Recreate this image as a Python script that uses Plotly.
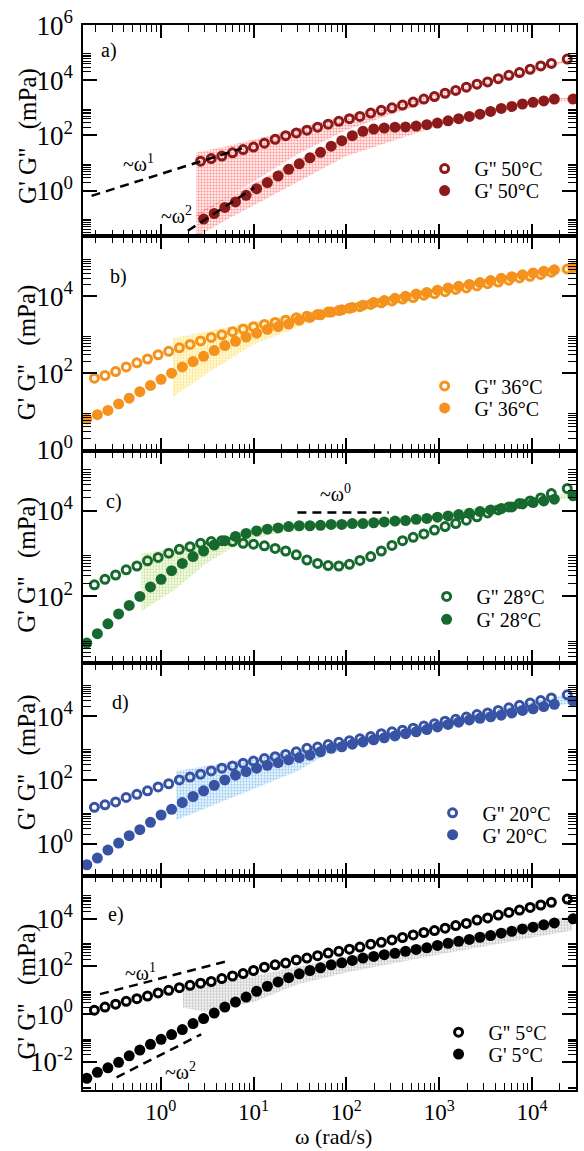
import plotly.graph_objects as go

# ---------------- data ----------------
# angular frequency grids (rad/s): G' grid and G'' grid
OMEGA_GP = [0.160, 0.208, 0.270, 0.352, 0.458, 0.596, 0.776, 1.01, 1.31, 1.71, 2.23, 2.90,
            3.77, 4.91, 6.39, 8.32, 10.8, 14.1, 18.4, 23.9, 31.1, 40.5, 52.7, 68.6, 89.3,
            116, 151, 197, 256, 334, 434, 565, 736, 958, 1247, 1623, 2113, 2750, 3580,
            4660, 6066, 7896, 10280, 13380, 17410, 27700]
OMEGA_GPP = [0.193, 0.251, 0.327, 0.425, 0.554, 0.721, 0.938, 1.22, 1.59, 2.07, 2.69, 3.50,
             4.56, 5.94, 7.73, 10.0, 13.1, 17.1, 22.2, 28.9, 37.6, 49.0, 63.7, 83.0, 108,
             140, 183, 238, 310, 403, 525, 684, 890, 1158, 1508, 1963, 2555, 3326, 4329,
             5635, 7335, 9550, 12430, 16170, 24000]

# panel a (50 C) -- measured only from omega ~2.7 rad/s
A_GPP = [11.7, 14.5, 17.8, 23.4, 30.9, 38.0, 52.5, 72.4, 97.7, 123, 155, 200, 257, 324, 407,
         490, 646, 813, 1000, 1259, 1622, 2089, 2570, 3388, 4266, 5623, 7244, 8710, 11480,
         15140, 19050, 25120, 33110, 40740, 58880]
A_GP = [0.0933, 0.148, 0.245, 0.389, 0.676, 1.17, 1.95, 3.39, 5.89, 9.33, 15.5, 24.5, 40.7,
        64.6, 97.7, 141, 170, 186, 200, 204, 219, 245, 282, 339, 407, 490, 589, 741, 955,
        1122, 1380, 1585, 1778, 2089, 2089]
# panel b (36 C)
B_GPP = [74.1, 87.1, 110, 145, 186, 234, 302, 372, 457, 562, 692, 851, 1000, 1202, 1413, 1622,
         1862, 2089, 2399, 2754, 3020, 3388, 3890, 4266, 4898, 5370, 6166, 6761, 7586, 8511,
         9333, 10720, 11750, 13180, 15140, 16600, 18620, 21380, 23440, 26300, 30200, 33110,
         37150, 42660, 51290]
B_GP = [6.46, 8.32, 10.7, 15.8, 22.4, 33.1, 47.9, 69.2, 100, 145, 200, 275, 389, 525, 676, 871,
        1096, 1380, 1622, 1905, 2399, 2818, 3311, 3890, 4467, 5129, 5888, 6918, 7762, 8913,
        10000, 11480, 12590, 14450, 16600, 18200, 20420, 22910, 25700, 29510, 32360, 36310,
        40740, 44670, 48980, 56230]
# panel c (28 C)
C_GPP = [186, 251, 316, 417, 513, 676, 813, 1023, 1259, 1445, 1738, 1905, 1995, 1905, 1738,
         1660, 1514, 1318, 1148, 933, 708, 589, 525, 513, 562, 692, 851, 1148, 1549, 1995,
         2399, 2884, 3548, 4266, 5012, 6026, 7244, 8913, 10470, 12300, 14790, 16980, 19950,
         25120, 33110]
C_GP = [8.13, 13.5, 22.9, 38.9, 61.7, 100, 166, 251, 398, 589, 851, 1148, 1585, 1995, 2512,
        2951, 3388, 3715, 3981, 4266, 4467, 4467, 4571, 4786, 4786, 5012, 5012, 5248, 5495,
        5754, 5888, 6310, 6607, 7079, 7586, 8128, 8710, 9550, 10470, 11220, 12300, 14450,
        15490, 16980, 18620, 22390]
# panel d (20 C)
D_GPP = [13.8, 16.6, 20.4, 28.2, 35.5, 45.7, 60.3, 75.9, 100, 123, 151, 191, 234, 275, 331,
         389, 468, 537, 631, 759, 977, 1072, 1288, 1514, 1698, 1950, 2291, 2818, 3236, 3631,
         4169, 4898, 5754, 6918, 7943, 9333, 11220, 12590, 15140, 18200, 21880, 25700, 30900,
         37150, 46770]
D_GP = [0.219, 0.355, 0.631, 1.05, 1.78, 2.75, 4.68, 7.94, 12.0, 19.5, 30.2, 45.7, 67.6, 100,
        141, 182, 234, 288, 347, 427, 501, 603, 759, 977, 1096, 1318, 1549, 1820, 2089, 2399,
        2818, 3236, 3802, 4571, 5495, 6457, 7586, 8511, 9550, 10720, 12590, 15140, 16980,
        19950, 23440, 29510]
# panel e (5 C)
E_GPP = [1.48, 2.00, 2.63, 3.47, 4.47, 5.75, 7.76, 10.0, 12.9, 16.2, 20.0, 23.4, 30.9, 39.8,
         50.1, 67.6, 93.3, 117, 138, 186, 224, 282, 363, 427, 525, 646, 851, 1023, 1288, 1622,
         2089, 2630, 3162, 3981, 5129, 6310, 8710, 10720, 14130, 18200, 22910, 29510, 37150,
         47860, 66070]
E_GP = [0.00209, 0.00372, 0.00575, 0.00977, 0.0182, 0.0316, 0.0550, 0.0891, 0.141, 0.229,
        0.407, 0.661, 1.12, 2.00, 3.24, 5.25, 9.12, 14.8, 22.4, 33.9, 49.0, 67.6, 87.1, 117,
        141, 178, 224, 263, 309, 355, 427, 513, 603, 759, 933, 1122, 1349, 1660, 1950, 2455,
        2951, 3715, 4365, 5495, 6607, 9772]

# uncertainty bands (omega, upper, lower)
BAND_A1_X = [2.4, 5, 10, 30, 100, 1000, 10000, 27000]
BAND_A1_HI = [23.4, 39.8, 70.8, 178, 525, 3311, 25120, 66070]
BAND_A1_LO = [0.110, 0.501, 2.09, 21.4, 158, 2291, 19050, 52480]
BAND_A2_X = [2.4, 5, 10, 30, 100, 1000, 10000, 27000]
BAND_A2_HI = [0.145, 0.525, 1.82, 13.2, 89.1, 355, 1995, 2399]
BAND_A2_LO = [0.0200, 0.0851, 0.288, 2.0, 17.8, 224, 1413, 1820]
BAND_B_X = [1.35, 3, 10, 30, 60, 300, 27000]
BAND_B_HI = [813, 1202, 2138, 3631, 4786, 9333, 63100]
BAND_B_LO = [24.0, 91.2, 562, 1585, 3020, 6026, 47860]
BAND_C_X = [0.62, 1.5, 3, 6, 10, 20, 50, 100, 1000, 27000]
BAND_C_HI = [1023, 1318, 1905, 2818, 4169, 5248, 5495, 5754, 8913, 26300]
BAND_C_LO = [44.7, 158, 562, 1413, 2239, 3162, 3981, 4169, 6607, 19950]
BAND_D_X = [1.47, 3, 10, 30, 60, 200, 27000]
BAND_D_HI = [191, 269, 468, 813, 1259, 2512, 52480]
BAND_D_LO = [5.50, 12.6, 51.3, 191, 631, 1585, 26300]
BAND_E_X = [1.74, 3, 10, 30, 100, 1000, 10000, 27000]
BAND_E_HI = [10.0, 15.8, 39.8, 100, 251, 1122, 7079, 12590]
BAND_E_LO = [1.91, 1.26, 3.16, 17.8, 56.2, 316, 1585, 3162]

# power-law guide lines
GUIDE_A1_X, GUIDE_A1_Y = [0.18, 7.5], [0.646, 34]
GUIDE_A2_X, GUIDE_A2_Y = [1.96, 10.2], [0.035, 1.29]
GUIDE_C0_X, GUIDE_C0_Y = [29.7, 286], [9120, 9120]
GUIDE_E1_X, GUIDE_E1_Y = [0.222, 5.07], [6.92, 162]
GUIDE_E2_X, GUIDE_E2_Y = [0.335, 2.73], [0.00229, 0.145]

TEMPS = ["50°C", "36°C", "28°C", "20°C", "5°C"]
LETTERS = ["a)", "b)", "c)", "d)", "e)"]
X_TICKS = [1, 10, 100, 1000, 10000]
X_TICKTEXT = ["10<sup>0</sup>", "10<sup>1</sup>", "10<sup>2</sup>", "10<sup>3</sup>", "10<sup>4</sup>"]

# ---------------- layout geometry ----------------
W, H = 584, 1151
ML, MR, MT, MB = 83, 6, 22, 61
PW, PH = W - ML - MR, H - MT - MB
FONT = "Liberation Serif, Times New Roman, serif"


def fx(px):
    return (px - ML) / PW


def fy(py):
    return (H - MB - py) / PH


BOUNDS = [22, 234, 449, 662, 875, 1090]

PANELS = [
    dict(gpp=A_GPP, gp=A_GP, xgpp=OMEGA_GPP[10:], xgp=OMEGA_GP[11:], color="#8c1a1a",
         band="#ff4040", bands=[(BAND_A1_X, BAND_A1_HI, BAND_A1_LO), (BAND_A2_X, BAND_A2_HI, BAND_A2_LO)],
         yr=(-1.66, 6.004), yt=[0, 2, 4, 6], leg=(446, 166, 188), ty=133, let=(109, 47.5)),
    dict(gpp=B_GPP, gp=B_GP, xgpp=OMEGA_GPP, xgp=OMEGA_GP, color="#f5921e",
         band="#ffcc00", bands=[(BAND_B_X, BAND_B_HI, BAND_B_LO)],
         yr=(-0.02, 5.56), yt=[0, 2, 4], leg=(446, 384, 406), ty=350, let=(119, 274)),
    dict(gpp=C_GPP, gp=C_GP, xgpp=OMEGA_GPP, xgp=OMEGA_GP, color="#176a2f",
         band="#9ccc3c", bands=[(BAND_C_X, BAND_C_HI, BAND_C_LO)],
         yr=(0.44, 5.40), yt=[2, 4], leg=(448, 595, 618), ty=563, let=(114, 500)),
    dict(gpp=D_GPP, gp=D_GP, xgpp=OMEGA_GPP, xgp=OMEGA_GP, color="#3953a4",
         band="#3c9be8", bands=[(BAND_D_X, BAND_D_HI, BAND_D_LO)],
         yr=(-1.0, 5.66), yt=[0, 2, 4], leg=(454, 812, 834), ty=761, let=(121, 701)),
    dict(gpp=E_GPP, gp=E_GP, xgpp=OMEGA_GPP, xgp=OMEGA_GP, color="#000000",
         band="#8a8a8a", bands=[(BAND_E_X, BAND_E_HI, BAND_E_LO)],
         yr=(-3.17, 5.8), yt=[-2, 0, 2, 4], leg=(460, 1032, 1054), ty=991, let=(116, 914)),
]

GUIDES = [(0, GUIDE_A1_X, GUIDE_A1_Y), (0, GUIDE_A2_X, GUIDE_A2_Y), (2, GUIDE_C0_X, GUIDE_C0_Y),
          (4, GUIDE_E1_X, GUIDE_E1_Y), (4, GUIDE_E2_X, GUIDE_E2_Y)]
GUIDE_LABELS = [("~ω<sup>1</sup>", 139, 160), ("~ω<sup>2</sup>", 177, 213), ("~ω<sup>0</sup>", 337, 491),
                ("~ω<sup>1</sup>", 141, 972), ("~ω<sup>2</sup>", 181, 1071)]

MINOR_X = [k * 10.0 ** e for e in range(-1, 5) for k in range(2, 10)]
MINOR_Y = [k * 10.0 ** e for e in range(-4, 7, 2) for k in range(2, 10)]

fig = go.Figure()
layout = dict(width=W, height=H, margin=dict(l=ML, r=MR, t=MT, b=MB),
              paper_bgcolor="white", plot_bgcolor="white",
              font=dict(family=FONT, color="black"), showlegend=True)
annotations = []
NBSP = "\u00a0"

for i, p in enumerate(PANELS):
    n = "" if i == 0 else str(i + 1)
    xa, ya = "x" + n, "y" + n
    # bands
    for bx, bhi, blo in p["bands"]:
        fig.add_trace(go.Scatter(
            x=bx + bx[::-1], y=bhi + blo[::-1], xaxis=xa, yaxis=ya, mode="lines",
            line=dict(width=0), fill="toself", fillcolor="rgba(0,0,0,0)",
            fillpattern=dict(shape=".", fgcolor=p["band"], bgcolor="rgba(0,0,0,0)",
                             size=3, solidity=0.5),
            showlegend=False, hoverinfo="skip"))
    leg1 = "legend" if i == 0 else "legend" + str(2 * i + 1)
    leg2 = "legend" + str(2 * i + 2)
    fig.add_trace(go.Scatter(
        x=p["xgpp"], y=p["gpp"], xaxis=xa, yaxis=ya, mode="markers",
        marker=dict(symbol="circle-open", size=8, color=p["color"], line=dict(width=3, color=p["color"])),
        name=NBSP * 2 + "G'' " + TEMPS[i], legend=leg1))
    fig.add_trace(go.Scatter(
        x=p["xgp"], y=p["gp"], xaxis=xa, yaxis=ya, mode="markers",
        marker=dict(symbol="circle", size=11, color=p["color"], line=dict(width=0)),
        name=NBSP * 2 + "G' " + TEMPS[i], legend=leg2))
    mx, r1, r2 = p["leg"]
    for key, ry in ((leg1, r1), (leg2, r2)):
        layout[key] = dict(x=fx(mx - 20), y=fy(ry), xanchor="left", yanchor="middle",
                           bgcolor="rgba(0,0,0,0)", borderwidth=0,
                           font=dict(family=FONT, size=20, color="black"))
    top, bot = BOUNDS[i], BOUNDS[i + 1]
    axis_common = dict(showline=True, linecolor="black", linewidth=1.5, mirror="allticks",
                       ticks="inside", tickcolor="black", tickwidth=1.5, showgrid=False,
                       zeroline=False, type="log")
    layout["xaxis" + n] = dict(
        axis_common, domain=[0, 1], anchor=ya, range=[-0.837, 4.474],
        tickvals=X_TICKS, ticktext=X_TICKTEXT, ticklen=13, showticklabels=(i == 4),
        tickfont=dict(family=FONT, size=23, color="black"), ticklabelstandoff=1,
        minor=dict(ticks="inside", ticklen=7, tickwidth=1.2, tickcolor="black",
                   tickvals=MINOR_X, showgrid=False))
    layout["yaxis" + n] = dict(
        axis_common, domain=[fy(bot), fy(top)], anchor=xa, range=list(p["yr"]),
        tickvals=[10.0 ** e for e in p["yt"]], ticktext=["10<sup>%d</sup>" % e for e in p["yt"]],
        ticklen=14, tickfont=dict(family=FONT, size=27, color="black"), ticklabelstandoff=3,
        minor=dict(ticks="inside", ticklen=8, tickwidth=1.0, tickcolor="black",
                   tickvals=MINOR_Y, showgrid=False))
    annotations.append(dict(text="G'" + NBSP + "G''" + NBSP * 3 + "(mPa)", xref="paper", yref="paper",
                            x=fx(27), y=fy(p["ty"]), xanchor="center", yanchor="middle",
                            textangle=-90, showarrow=False,
                            font=dict(family=FONT, size=25, color="black")))
    lx, ly = p["let"]
    annotations.append(dict(text=LETTERS[i], xref="paper", yref="paper", x=fx(lx), y=fy(ly),
                            xanchor="center", yanchor="middle", showarrow=False,
                            font=dict(family=FONT, size=20, color="black")))

for pi, gx, gy in GUIDES:
    n = "" if pi == 0 else str(pi + 1)
    fig.add_trace(go.Scatter(x=gx, y=gy, xaxis="x" + n, yaxis="y" + n, mode="lines",
                             line=dict(color="black", width=2.5, dash="9px,6px"),
                             showlegend=False, hoverinfo="skip"))
for txt, cx, cy in GUIDE_LABELS:
    annotations.append(dict(text=txt, xref="paper", yref="paper", x=fx(cx), y=fy(cy),
                            xanchor="center", yanchor="middle", showarrow=False,
                            font=dict(family=FONT, size=20, color="black")))

annotations.append(dict(text="ω (rad/s)", xref="paper", yref="paper", x=fx(335), y=fy(1151),
                        xanchor="center", yanchor="bottom", showarrow=False,
                        font=dict(family=FONT, size=22, color="black")))
layout["annotations"] = annotations
fig.update_layout(**layout)
fig.write_html("out.html")
